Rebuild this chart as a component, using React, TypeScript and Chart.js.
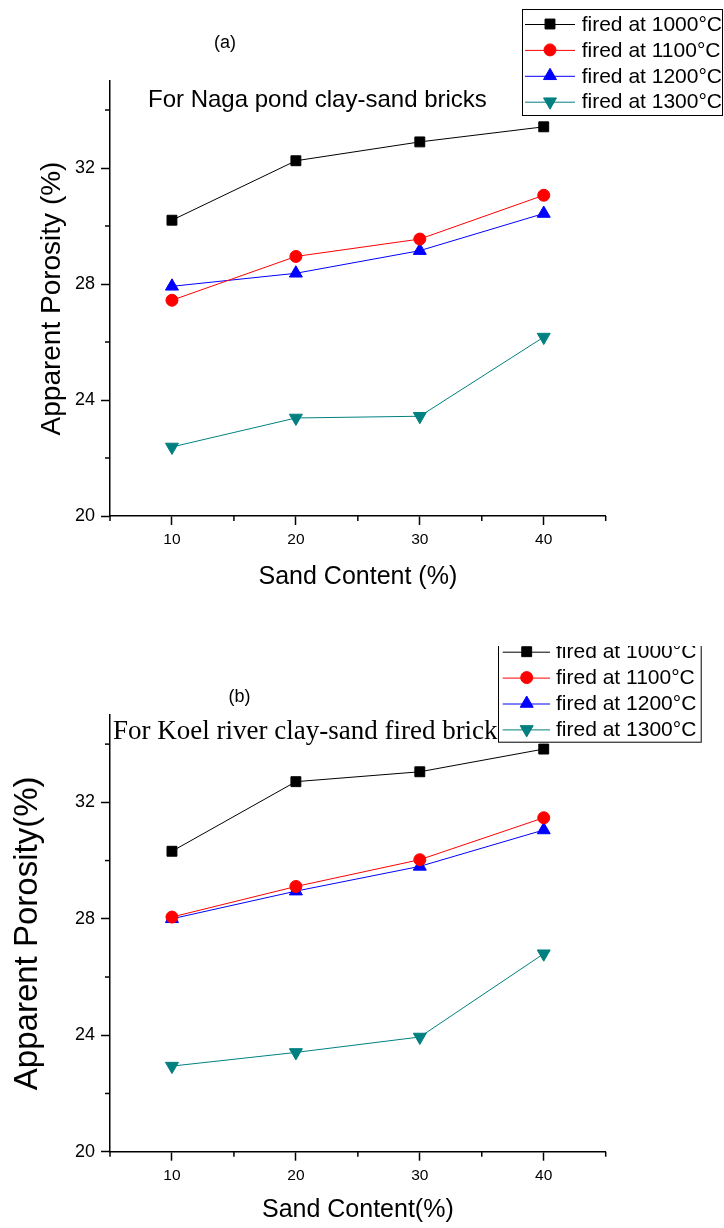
import React, { useEffect, useRef } from 'react';
import { Chart, registerables } from 'chart.js';

Chart.register(...registerables);

// ---------------- data ----------------
const sandContent = [10, 20, 30, 40];
const seriesLabels = ['fired at 1000°C', 'fired at 1100°C', 'fired at 1200°C', 'fired at 1300°C'];

// (a) Naga pond clay-sand bricks
const nagaFired1000 = [30.2, 32.25, 32.9, 33.42];
const nagaFired1100 = [27.44, 28.95, 29.55, 31.06];
const nagaFired1200 = [27.92, 28.37, 29.15, 30.43];
const nagaFired1300 = [22.38, 23.38, 23.44, 26.17];

// (b) Koel river clay-sand fired brick
const koelFired1000 = [30.32, 32.71, 33.05, 33.83];
const koelFired1100 = [28.06, 29.11, 30.03, 31.47];
const koelFired1200 = [28.0, 28.95, 29.8, 31.05];
const koelFired1300 = [22.94, 23.41, 23.94, 26.8];

const xMajorTicks = [10, 20, 30, 40];
const xMinorTicks = [5, 15, 25, 35, 45];
const yMajorTicks = [20, 24, 28, 32];
const yMinorTicks = [22, 26, 30, 34];

// ---------------- styles ----------------
const SANS = '"Liberation Sans", Arial, sans-serif';
const SERIF = '"Liberation Serif", "Times New Roman", serif';
const seriesColors = ['#000000', '#ff0000', '#0000ff', '#008080'];
const seriesStyles = ['rect', 'circle', 'triangle', 'triangle'];
const seriesRadius = [7, 6, 7.5, 7.5];
const seriesRotation = [0, 0, 0, 180];

function drawMarker(ctx: CanvasRenderingContext2D, style: string, x: number, y: number, r: number, rot: number, color: string) {
  ctx.save();
  ctx.fillStyle = color;
  ctx.strokeStyle = color;
  ctx.lineWidth = 1;
  ctx.beginPath();
  if (style === 'rect') {
    const s = r * Math.SQRT1_2;
    ctx.rect(x - s, y - s, 2 * s, 2 * s);
  } else if (style === 'circle') {
    ctx.arc(x, y, r, 0, Math.PI * 2);
  } else {
    let rad = (rot * Math.PI) / 180;
    ctx.moveTo(x + Math.sin(rad) * r, y - Math.cos(rad) * r);
    rad += (2 * Math.PI) / 3;
    ctx.lineTo(x + Math.sin(rad) * r, y - Math.cos(rad) * r);
    rad += (2 * Math.PI) / 3;
    ctx.lineTo(x + Math.sin(rad) * r, y - Math.cos(rad) * r);
    ctx.closePath();
  }
  ctx.fill();
  ctx.stroke();
  ctx.restore();
}

const overlayPlugin = {
  id: 'overlay',
  afterDraw(chart: any, _args: any, opts: any) {
    const ctx: CanvasRenderingContext2D = chart.ctx;
    const xs = chart.scales.x;
    const ys = chart.scales.y;
    ctx.save();
    // minor ticks
    ctx.strokeStyle = '#000';
    ctx.lineWidth = 1.5;
    xMinorTicks.forEach((v) => {
      const px = xs.getPixelForValue(v);
      ctx.beginPath();
      ctx.moveTo(px, xs.top);
      ctx.lineTo(px, xs.top + 5);
      ctx.stroke();
    });
    yMinorTicks.forEach((v) => {
      const py = ys.getPixelForValue(v);
      ctx.beginPath();
      ctx.moveTo(ys.right, py);
      ctx.lineTo(ys.right - 5, py);
      ctx.stroke();
    });
    // annotations
    (opts.texts || []).forEach((t: any) => {
      ctx.font = t.font;
      ctx.fillStyle = '#000';
      ctx.textAlign = t.align;
      ctx.textBaseline = 'middle';
      ctx.fillText(t.text, t.x, t.y);
    });
    // legend
    const L = opts.legend;
    ctx.strokeStyle = '#000';
    ctx.lineWidth = 1;
    ctx.strokeRect(L.left + 0.5, L.top + 0.5, L.right - L.left, L.bottom - L.top);
    chart.data.datasets.forEach((ds: any, i: number) => {
      const y = L.firstRow + i * L.rowGap;
      ctx.strokeStyle = ds.borderColor;
      ctx.lineWidth = 1;
      ctx.beginPath();
      ctx.moveTo(L.lineStart, y + 0.5);
      ctx.lineTo(L.lineEnd, y + 0.5);
      ctx.stroke();
      drawMarker(ctx, seriesStyles[i], L.markerX, y, seriesRadius[i], seriesRotation[i], seriesColors[i]);
      ctx.fillStyle = '#000';
      ctx.font = L.font;
      ctx.textAlign = 'left';
      ctx.textBaseline = 'middle';
      ctx.fillText(ds.label, L.textX, y + 1);
    });
    ctx.restore();
  },
};

function buildConfig(p: any) {
  const values = p.values;
  return {
    type: 'line',
    data: {
      datasets: values.map((vals: number[], i: number) => ({
        label: seriesLabels[i],
        data: sandContent.map((x, j) => ({ x, y: vals[j] })),
        borderColor: seriesColors[i],
        backgroundColor: seriesColors[i],
        borderWidth: 1,
        pointStyle: seriesStyles[i],
        pointRadius: seriesRadius[i],
        pointRotation: seriesRotation[i],
        pointBorderWidth: 1,
        pointBackgroundColor: seriesColors[i],
        pointBorderColor: seriesColors[i],
        fill: false,
        tension: 0,
      })),
    },
    options: {
      responsive: false,
      animation: false,
      events: [],
      layout: { padding: { left: 0, top: p.chartTop, right: 724 - 605.7, bottom: 0 } },
      plugins: {
        legend: { display: false },
        tooltip: { enabled: false },
        overlay: { texts: p.texts, legend: p.legend },
      },
      scales: {
        x: {
          type: 'linear',
          min: 5,
          max: 45,
          afterBuildTicks: (s: any) => {
            s.ticks = xMajorTicks.map((v) => ({ value: v }));
          },
          afterFit: (s: any) => {
            s.height = p.height - p.chartBottom;
          },
          grid: {
            display: true,
            drawOnChartArea: false,
            drawTicks: true,
            tickLength: 9,
            tickWidth: 1.5,
            tickColor: '#000',
          },
          border: { display: true, color: '#000', width: 1.5 },
          ticks: {
            color: '#000',
            font: { family: SANS, size: 15.5 },
            padding: 5.5,
            maxRotation: 0,
            callback: (v: any) => String(v),
          },
          title: {
            display: true,
            text: p.xTitle,
            color: '#000',
            font: { family: SANS, size: 25 },
            padding: { top: 0, bottom: p.xTitlePad },
          },
        },
        y: {
          type: 'linear',
          min: 20,
          max: 35,
          afterBuildTicks: (s: any) => {
            s.ticks = yMajorTicks.map((v) => ({ value: v }));
          },
          afterFit: (s: any) => {
            s.width = 110;
          },
          grid: {
            display: true,
            drawOnChartArea: false,
            drawTicks: true,
            tickLength: 9,
            tickWidth: 1.5,
            tickColor: '#000',
          },
          border: { display: true, color: '#000', width: 1.5 },
          ticks: {
            color: '#000',
            font: { family: SANS, size: 18 },
            padding: 6,
            callback: (v: any) => String(v),
          },
          title: {
            display: true,
            text: p.yTitle,
            color: '#000',
            font: { family: SANS, size: p.yTitleSize },
            padding: { top: p.yTitlePad, bottom: 0 },
          },
        },
      },
    },
    plugins: [overlayPlugin],
  };
}

const topParams = {
  height: 646,
  chartTop: 81,
  chartBottom: 516,
  values: [nagaFired1000, nagaFired1100, nagaFired1200, nagaFired1300],
  xTitle: 'Sand Content (%)',
  xTitlePad: 54,
  yTitle: 'Apparent Porosity (%)',
  yTitleSize: 28,
  yTitlePad: 35,
  texts: [
    { text: '(a)', x: 225, y: 43, font: `18px ${SANS}`, align: 'center' },
    { text: 'For Naga pond clay-sand bricks', x: 148, y: 100, font: `24px ${SANS}`, align: 'left' },
  ],
  legend: {
    left: 522, right: 722, top: 9, bottom: 115,
    firstRow: 24, rowGap: 25.9,
    lineStart: 525, lineEnd: 575, markerX: 550, textX: 581.7,
    font: `21px ${SANS}`,
  },
};

const bottomParams = {
  height: 582,
  chartTop: 69,
  chartBottom: 505.7,
  values: [koelFired1000, koelFired1100, koelFired1200, koelFired1300],
  xTitle: 'Sand Content(%)',
  xTitlePad: 3,
  yTitle: 'Apparent Porosity(%)',
  yTitleSize: 33,
  yTitlePad: 8,
  texts: [
    { text: '(b)', x: 239.5, y: 51, font: `18px ${SANS}`, align: 'center' },
    { text: 'For Koel river clay-sand fired brick', x: 113, y: 85.7, font: `27px ${SERIF}`, align: 'left' },
  ],
  legend: {
    left: 498, right: 700.7, top: -9.3, bottom: 95.7,
    firstRow: 5.7, rowGap: 25.9,
    lineStart: 502.7, lineEnd: 550, markerX: 526.7, textX: 556,
    font: `21px ${SANS}`,
  },
};

function ChartCanvas({ params, top }: { params: any; top: number }) {
  const ref = useRef<HTMLCanvasElement | null>(null);
  useEffect(() => {
    if (!ref.current) return;
    const chart = new Chart(ref.current, buildConfig(params) as any);
    return () => chart.destroy();
  }, [params]);
  return (
    <canvas
      ref={ref}
      width={724}
      height={params.height}
      style={{ position: 'absolute', left: 0, top, width: 724, height: params.height, display: 'block' }}
    />
  );
}

export default function App() {
  return (
    <div style={{ position: 'absolute', left: 0, top: 0, width: 724, height: 1228, background: '#fff', overflow: 'hidden' }}>
      <ChartCanvas params={topParams} top={0} />
      <ChartCanvas params={bottomParams} top={646} />
    </div>
  );
}
